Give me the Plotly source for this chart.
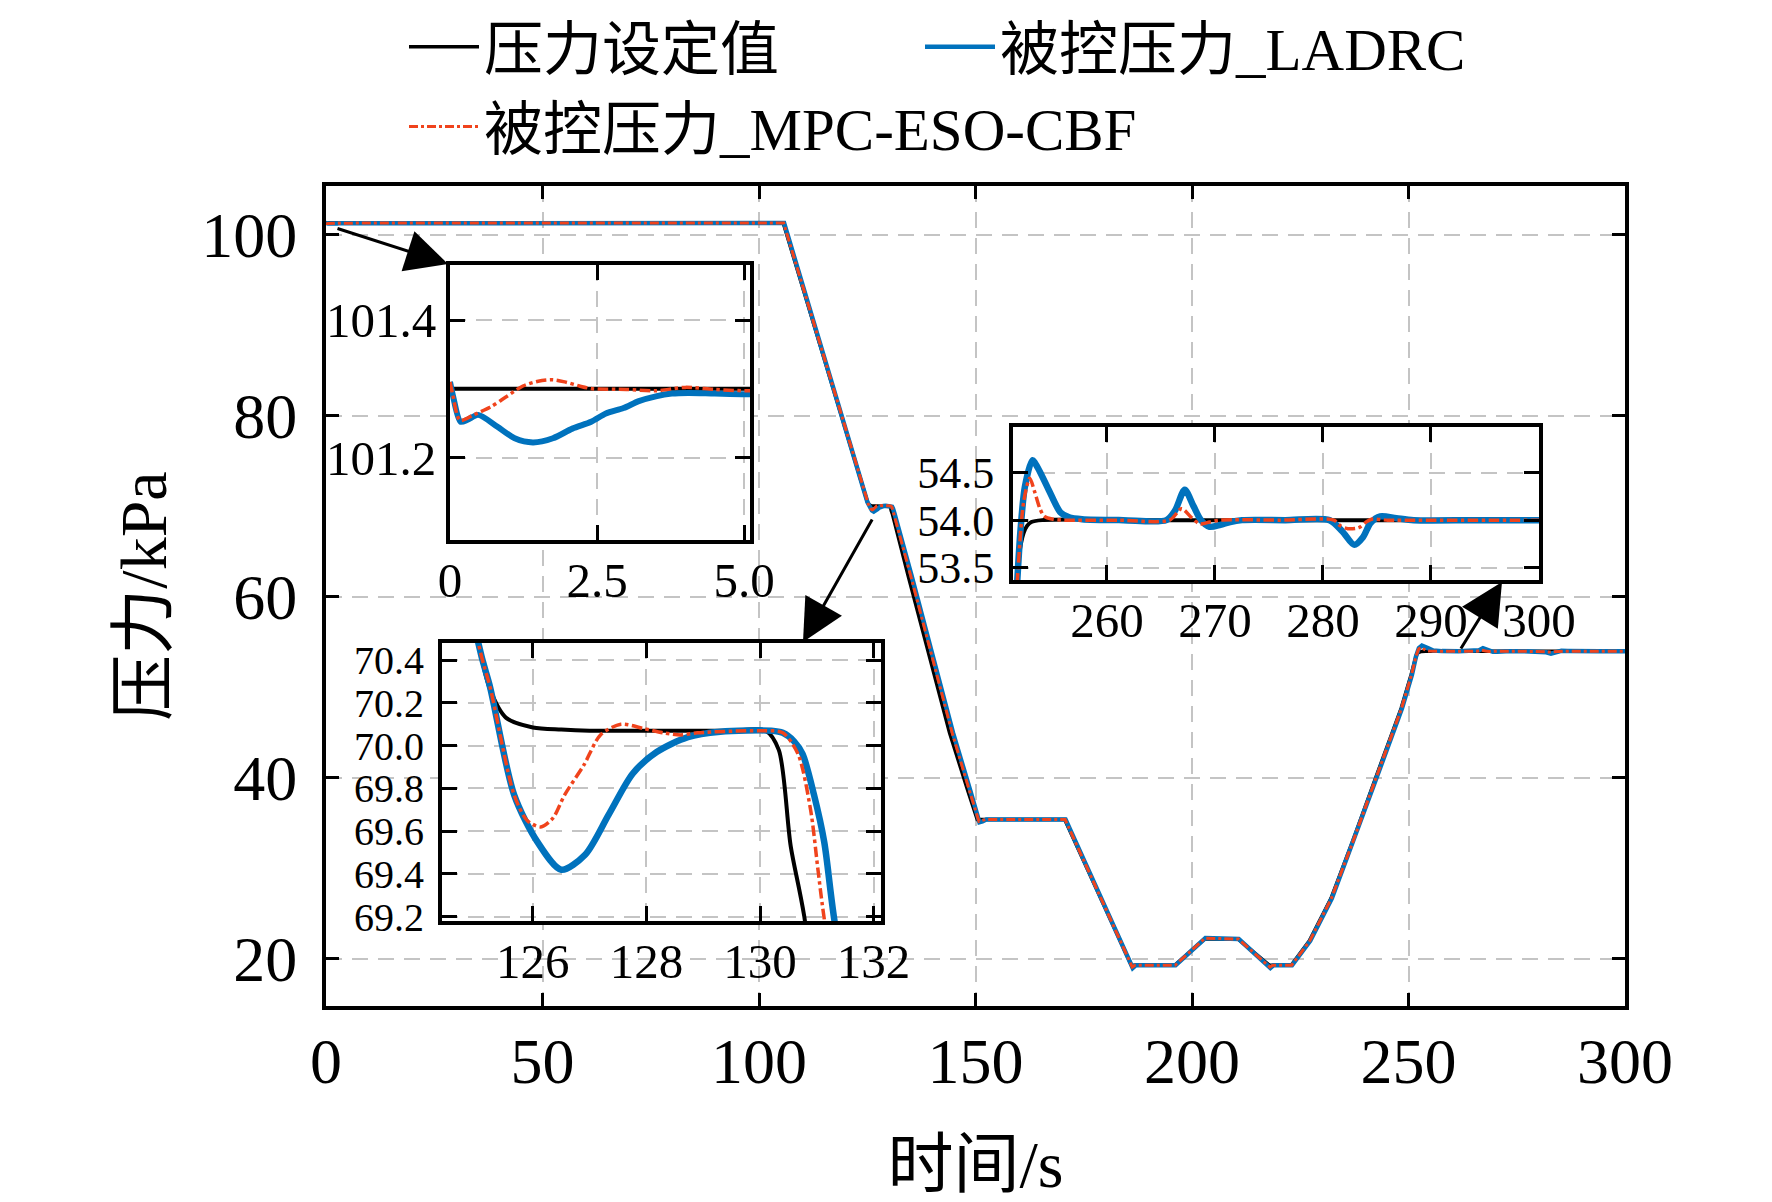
import plotly.graph_objects as go

# ---- data (time in s, pressure in kPa) ----
# 压力设定值
t_sp = [0, 2.5, 5.0, 50, 100, 105.6, 125.04, 125.25, 125.53, 126.0, 126.5, 127.0, 128.5, 129.5,
        130.1, 130.33, 130.54, 130.78, 134.4, 139.0, 144.0, 148.2, 150.4, 170.6, 186.0, 196.0,
        202.9, 210.6, 217.9, 222.9, 227.1, 232.1, 237.1, 242.1, 248.3, 250.6, 251.69, 251.85,
        252.27, 252.6, 253.0, 254.0, 265.0, 275.0, 285.0, 300]
p_sp = [101.3, 101.3, 101.3, 101.3, 101.3, 101.3, 70.48, 70.26, 70.13, 70.085, 70.075, 70.07, 70.07, 70.07,
        70.07, 69.98, 69.53, 69.2, 62.4, 54.2, 45.0, 38.6, 35.4, 35.4, 19.3, 19.3,
        22.2, 22.2, 19.3, 19.3, 22.0, 26.7, 33.0, 39.6, 47.7, 51.4, 53.37, 53.62,
        53.86, 53.94, 53.98, 54.0, 54.0, 54.0, 54.0, 54.0]

# 被控压力_LADRC
t_ladrc = [0, 0.05, 0.18, 0.3, 0.48, 0.8, 1.1, 1.41, 1.75, 2.08, 2.4, 2.65, 2.95, 3.21, 3.5,
           3.77, 4.05, 4.5, 5.04, 7.0, 10.0, 105.8,
           125.04, 125.25, 125.67, 126.08, 126.5, 126.92, 127.34, 127.76, 128.18, 128.73, 129.3,
           130.2, 130.4, 130.6, 130.75, 130.95, 131.13, 131.3,
           135.2, 139.8, 144.8, 148.8, 150.9, 151.6, 152.5, 170.8, 186.3, 187.0, 196.2, 203.1,
           210.8, 218.1, 218.8, 223.1, 227.3, 232.3, 237.3, 242.3, 248.5, 250.8,
           251.7, 252.0, 252.4, 253.1, 253.6, 254.6, 255.7, 256.5, 257.7, 261.5, 265.5, 266.3,
           267.2, 268.0, 268.7, 269.5, 270.5, 271.4, 272.5, 276.5, 280.6, 281.8, 282.9, 283.7,
           284.4, 285.3, 286.8, 288.4, 294.0, 300]
p_ladrc = [101.31, 101.29, 101.252, 101.255, 101.262, 101.245, 101.228, 101.222, 101.228, 101.242,
           101.252, 101.264, 101.272, 101.282, 101.289, 101.293, 101.294, 101.293, 101.292, 101.296,
           101.3, 101.3,
           70.48, 70.27, 69.77, 69.55, 69.42, 69.49, 69.68, 69.87, 69.97, 70.04, 70.065,
           70.07, 70.06, 70.02, 69.96, 69.77, 69.55, 69.2,
           62.4, 54.2, 45.0, 38.6, 35.1, 35.2, 35.4, 35.4, 19.0, 19.3, 19.3, 22.3,
           22.2, 19.0, 19.3, 19.3, 22.0, 26.7, 33.0, 39.6, 47.7, 51.4,
           53.37, 53.9, 54.35, 54.63, 54.55, 54.32, 54.08, 54.03, 54.01, 54.0, 54.0, 54.1,
           54.32, 54.15, 54.0, 53.93, 53.95, 53.98, 54.0, 54.0, 54.0, 53.88, 53.74, 53.82,
           53.97, 54.04, 54.02, 54.0, 54.0, 54.0]

# 被控压力_MPC-ESO-CBF
t_mpc = [0, 0.05, 0.17, 0.4, 0.68, 0.95, 1.24, 1.5, 1.74, 1.95, 2.2, 2.42, 3.0, 3.49, 4.0,
         4.5, 5.04, 7.0, 10.0, 105.7,
         125.04, 125.25, 125.67, 125.9, 126.14, 126.35, 126.56, 126.9, 127.19, 127.55, 127.95,
         128.3, 128.6, 128.9, 130.0, 130.4, 130.67, 130.89, 131.02, 131.12,
         135.0, 139.6, 144.6, 148.6, 150.8, 151.5, 152.3, 170.7, 186.2, 186.9, 196.1, 203.0,
         210.7, 218.0, 218.7, 223.0, 227.2, 232.2, 237.2, 242.2, 248.4, 250.7,
         251.7, 252.3, 252.85, 253.3, 253.8, 254.2, 255.0, 256.0, 261.0, 265.8, 266.9, 267.8,
         268.6, 269.5, 270.5, 276.0, 281.0, 281.6, 282.3, 283.3, 284.0, 284.5, 286.0, 293.0, 300]
p_mpc = [101.31, 101.29, 101.254, 101.262, 101.273, 101.288, 101.304, 101.311, 101.313, 101.31,
         101.304, 101.30, 101.299, 101.297, 101.302, 101.299, 101.297, 101.299, 101.3, 101.3,
         70.48, 70.27, 69.77, 69.65, 69.62, 69.66, 69.77, 69.91, 70.05, 70.10, 70.08,
         70.06, 70.05, 70.06, 70.07, 70.06, 69.96, 69.7, 69.42, 69.21,
         62.4, 54.2, 45.0, 38.6, 35.2, 35.3, 35.4, 35.4, 19.1, 19.3, 19.3, 22.3,
         22.2, 19.1, 19.3, 19.3, 22.0, 26.7, 33.0, 39.6, 47.7, 51.4,
         53.37, 54.2, 54.44, 54.3, 54.12, 54.04, 54.01, 54.0, 54.0, 54.0, 54.12, 54.03,
         53.96, 53.98, 54.0, 54.0, 54.0, 53.94, 53.91, 53.92, 53.98, 54.01, 54.0, 54.0, 54.0]

names = ['压力设定值', '被控压力_LADRC', '被控压力_MPC-ESO-CBF']

# tick labels
x_main_ticks = [0, 50, 100, 150, 200, 250, 300]
y_main_ticks = [20, 40, 60, 80, 100]
x_in1_ticks = [0, 2.5, 5.0]
x_in1_text = ['0', '2.5', '5.0']
y_in1_ticks = [101.2, 101.4]
x_in2_ticks = [126, 128, 130, 132]
y_in2_ticks = [69.2, 69.4, 69.6, 69.8, 70.0, 70.2, 70.4]
x_in3_ticks = [260, 270, 280, 290, 300]
y_in3_ticks = [53.5, 54.0, 54.5]

# ---- layout geometry (pixels) ----
W, H = 1772, 1202
L, R, T, B = 318, 1617, 178, 998
X_RANGE = [0, 300]
Y_RANGE = [14.8, 105.4]

FONT = 'Liberation Serif, Noto Sans CJK SC, serif'
BLUE = '#0072BD'
RED = '#F0431C'
GRID = '#c4c4c4'


def dom_x(a, b):
    return [(a - L) / (R - L), (b - L) / (R - L)]


def dom_y(top, bottom):
    return [(B - bottom) / (B - T), (B - top) / (B - T)]


def to_main(px, py):
    t = X_RANGE[0] + (px - L) / (R - L) * (X_RANGE[1] - X_RANGE[0])
    v = Y_RANGE[0] + (B - py) / (B - T) * (Y_RANGE[1] - Y_RANGE[0])
    return t, v


fig = go.Figure()

subplots = [
    # xaxis, yaxis, (black, blue, red) widths
    ('x', 'y', (3.5, 4.5, 3)),
    ('x2', 'y2', (4, 6, 3.5)),
    ('x3', 'y3', (4, 6.5, 3.5)),
    ('x4', 'y4', (4, 6.5, 3.5)),
]

for xa, ya, (wk, wb, wr) in subplots:
    main = xa == 'x'
    shape = 'linear' if main else 'spline'
    fig.add_trace(go.Scatter(x=t_sp, y=p_sp, mode='lines', name=names[0],
                             line=dict(color='black', width=wk, shape=shape, smoothing=0.8),
                             xaxis=xa, yaxis=ya, showlegend=main, legend='legend'))
    fig.add_trace(go.Scatter(x=t_ladrc, y=p_ladrc, mode='lines', name=names[1],
                             line=dict(color=BLUE, width=wb, shape=shape, smoothing=0.8),
                             xaxis=xa, yaxis=ya, showlegend=main, legend='legend2'))
    fig.add_trace(go.Scatter(x=t_mpc, y=p_mpc, mode='lines', name=names[2],
                             line=dict(color=RED, width=wr, dash='dashdot', shape=shape,
                                       smoothing=0.8),
                             xaxis=xa, yaxis=ya, showlegend=main, legend='legend'))


def axis_style(size, ticklen, standoff):
    return dict(showline=True, linecolor='black', linewidth=4, mirror='ticks',
                ticks='inside', ticklen=ticklen, tickwidth=3, tickcolor='black',
                showgrid=True, gridcolor=GRID, gridwidth=2, griddash='16px,10px',
                zeroline=False, tickfont=dict(family=FONT, size=size, color='black'),
                ticklabelstandoff=standoff)


legend_style = dict(orientation='v', xanchor='left', yanchor='top',
                    y=(B + 6) / (B - T), itemwidth=70,
                    font=dict(family=FONT, size=59, color='black'),
                    bgcolor='rgba(0,0,0,0)', borderwidth=0)

fig.update_layout(
    width=W, height=H, autosize=False,
    margin=dict(l=L, r=W - R, t=T, b=H - B, pad=0, autoexpand=False),
    paper_bgcolor='white', plot_bgcolor='white',
    font=dict(family=FONT, color='black'),
    showlegend=True,
    legend=dict(x=(396 - L) / (R - L), **legend_style),
    legend2=dict(x=(912 - L) / (R - L), **legend_style),
    xaxis=dict(range=X_RANGE, tickvals=x_main_ticks,
               title=dict(text='时间/s', font=dict(family=FONT, size=66), standoff=46),
               **axis_style(64, 13, -4)),
    yaxis=dict(range=Y_RANGE, tickvals=y_main_ticks,
               title=dict(text='压力/kPa', font=dict(family=FONT, size=66), standoff=14),
               **axis_style(64, 13, 12)),
    xaxis2=dict(domain=dom_x(442, 742), anchor='y2', range=[0, 5.1],
                tickvals=x_in1_ticks, ticktext=x_in1_text, **axis_style(49, 15, -6)),
    yaxis2=dict(domain=dom_y(257, 532), anchor='x2', range=[101.08, 101.48],
                tickvals=y_in1_ticks, tickformat='.1f', **axis_style(49, 15, 0)),
    xaxis3=dict(domain=dom_x(434, 873), anchor='y3', range=[124.4, 132.13],
                tickvals=x_in2_ticks, **axis_style(49, 15, -6)),
    yaxis3=dict(domain=dom_y(635, 913), anchor='x3', range=[69.18, 70.48],
                tickvals=y_in2_ticks, tickformat='.1f', **axis_style(40, 15, 6)),
    xaxis4=dict(domain=dom_x(1005, 1531), anchor='y4', range=[251.3, 300],
                tickvals=x_in3_ticks, **axis_style(49, 15, -6)),
    yaxis4=dict(domain=dom_y(419, 572), anchor='x4', range=[53.37, 54.98],
                tickvals=y_in3_ticks, tickformat='.1f', **axis_style(44, 15, 6)),
)

# arrows pointing from the curve to each zoomed inset
arrows = [((328, 220), (440, 256)), ((865, 510), (795, 634)), ((1452, 642), (1494, 574))]
for tail, tip in arrows:
    tx, ty = to_main(*tail)
    hx, hy = to_main(*tip)
    fig.add_annotation(x=hx, y=hy, ax=tx, ay=ty, xref='x', yref='y', axref='x', ayref='y',
                       text='', showarrow=True, arrowhead=2, arrowsize=2.8,
                       arrowwidth=3, arrowcolor='black')

fig.write_html("out.html")
